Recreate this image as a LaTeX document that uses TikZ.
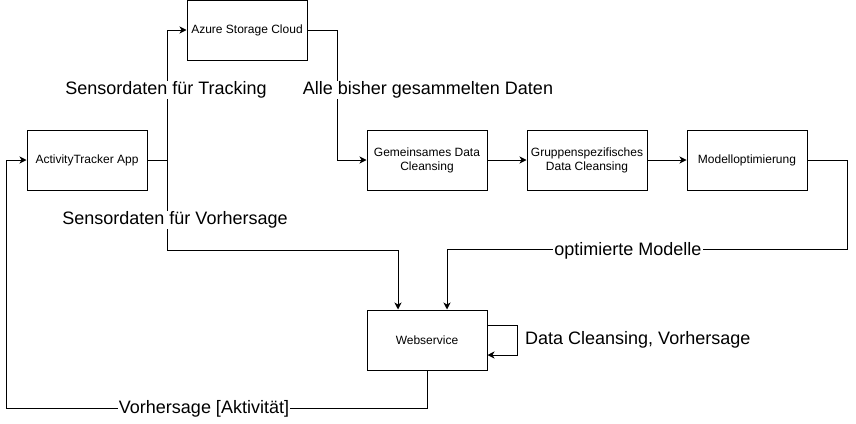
\documentclass[tikz,border=0pt]{standalone}
\usepackage{fontspec}
\setmainfont{Liberation Sans}
\usetikzlibrary{arrows.meta}
\begin{document}
\begin{tikzpicture}[x=1pt,y=-1pt,
  box/.style={draw, line width=1pt, minimum width=120pt, minimum height=60pt, align=center, inner sep=2pt, font=\fontsize{12}{14}\selectfont},
  arr/.style={draw, line width=1pt, -{Stealth[length=7pt,width=7pt,inset=2pt]}},
  conn/.style={draw, line width=1pt},
  lbl/.style={fill=white, inner sep=1pt, font=\fontsize{18}{21}\selectfont}]
\useasboundingbox (0,0) rectangle (856,423);
\node[box] (app) at (87,160) {ActivityTracker App};
\node[box] (azure) at (247,30) {Azure Storage Cloud};
\node[box] (gem) at (427,160) {Gemeinsames Data\\Cleansing};
\node[box] (grp) at (587,160) {Gruppenspezifisches\\Data Cleansing};
\node[box] (mod) at (747,160) {Modelloptimierung};
\node[box] (web) at (427,340) {Webservice};
% connectors
\draw[arr] (app.east) -- ++(20,0) |- (azure.west);
\draw[arr] (app.east) -- ++(20,0) -- ++(0,90) -| ([xshift=-29pt]web.north);
\draw[arr] (azure.east) -- ++(30,0) |- (gem.west);
\draw[arr] (gem.east) -- (grp.west);
\draw[arr] (grp.east) -- (mod.west);
\draw[arr] (mod.east) -- ++(40,0) -- ++(0,89) -| ([xshift=20pt]web.north);
\draw[arr] ([yshift=15pt]web.east) -- ++(30,0) -- ++(0,30) -- ([yshift=-15pt]web.east);
\draw[arr] (web.south) -- ++(0,38) -| ([xshift=-20pt]app.west) -- (app.west);
% labels
\node[lbl] (ltrack) at (166,90) {Sensordaten für Tracking};
\node[lbl] (lalle) at (428,90) {Alle bisher gesammelten Daten};
\node[lbl] (lvor) at (175,220) {Sensordaten für Vorhersage};
\node[lbl] (lopt) at (628,251) {optimierte Modelle};
\node[lbl, anchor=west] (lclean) at (524,340) {Data Cleansing, Vorhersage};
\node[lbl] (lakt) at (204,409) {Vorhersage [Aktivität]};
\end{tikzpicture}
\end{document}
